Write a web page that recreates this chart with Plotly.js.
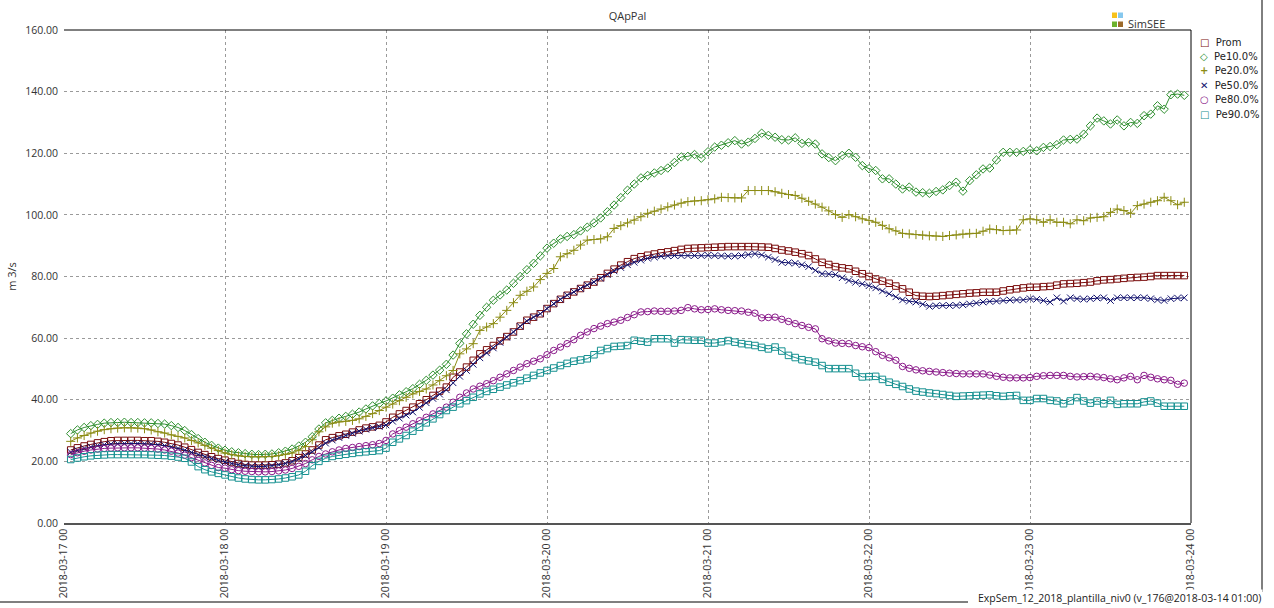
<!DOCTYPE html>
<html><head><meta charset="utf-8">
<script src="https://cdn.plot.ly/plotly-3.0.1.min.js"></script>
<style>html,body{margin:0;padding:0;background:#fff}#chart{width:1274px;height:608px}</style>
</head><body><div id="chart"></div>
<script>
// ---- data (hourly, first point 2018-03-17 01:00) ----
const seriesNames = ['Prom', 'Pe10.0%', 'Pe20.0%', 'Pe50.0%', 'Pe80.0%', 'Pe90.0%'];
const dayTicks = ['2018-03-17 00:00','2018-03-18 00:00','2018-03-19 00:00','2018-03-20 00:00','2018-03-21 00:00','2018-03-22 00:00','2018-03-23 00:00','2018-03-24 00:00'];
const dayTickLabels = ['2018-03-17 00','2018-03-18 00','2018-03-19 00','2018-03-20 00','2018-03-21 00','2018-03-22 00','2018-03-23 00','2018-03-24 00'];

const prom = [
23.7,24.4,25.0,25.5,26.0,26.4,26.7,26.8,26.8,26.8,26.8,26.7,26.7,26.5,26.2,25.8,25.3,24.6,23.8,22.9,22.2,21.5,20.9,
20.4,19.8,19.3,19.0,18.8,18.8,18.8,18.9,19.1,19.5,20.2,21.2,22.4,23.7,25.3,27.0,27.7,28.3,28.8,29.5,30.2,30.8,31.2,31.7,
32.8,34.3,35.4,36.5,37.6,38.7,40.0,41.4,42.8,44.1,47.3,49.0,50.6,52.8,54.9,56.2,57.6,59.1,60.5,62.0,63.9,65.8,66.8,67.9,
69.6,71.2,72.6,73.9,75.0,76.1,77.2,78.2,79.6,81.0,82.4,83.7,84.8,85.8,86.4,86.9,87.3,87.7,88.0,88.4,88.8,89.1,89.2,89.3,
89.4,89.5,89.6,89.7,89.7,89.7,89.7,89.7,89.6,89.5,89.1,88.6,88.3,87.9,87.4,86.8,85.7,84.6,83.9,83.2,82.8,82.5,81.7,80.9,
80.0,79.2,78.5,77.8,76.9,76.0,74.9,73.8,73.6,73.5,73.6,73.8,74.0,74.2,74.4,74.6,74.7,74.9,74.9,74.9,75.3,75.7,76.0,76.3,
76.5,76.5,76.7,76.8,77.2,77.6,77.7,77.8,78.0,78.2,78.6,78.9,79.0,79.2,79.4,79.6,79.7,79.8,80.0,80.3,80.3,80.3,80.3,80.3];

const pe10 = [
29.0,30.2,31.0,31.6,32.0,32.4,32.6,32.6,32.7,32.6,32.6,32.5,32.5,32.3,32.1,31.6,31.0,30.0,28.7,27.4,26.2,25.2,24.3,
23.6,23.1,22.8,22.5,22.3,22.2,22.3,22.4,22.8,23.3,24.0,25.0,26.2,28.0,30.5,32.5,33.3,34.0,34.6,35.3,36.0,37.0,38.0,38.8,
39.6,40.5,41.6,42.6,43.6,45.0,46.3,48.0,49.6,51.5,54.5,58.3,61.4,64.5,67.4,70.0,72.3,74.0,75.6,77.8,80.0,82.2,84.3,86.7,
89.2,90.8,92.2,93.0,93.6,94.8,96.0,97.4,99.0,101.0,103.2,105.6,108.0,110.0,112.0,112.8,113.6,114.4,115.2,117.0,118.8,119.0,119.6,118.4,
120.5,122.0,122.6,123.4,124.1,123.0,123.6,124.8,126.5,125.8,125.2,124.4,124.3,125.0,123.2,123.5,123.0,119.8,118.6,117.6,119.3,120.0,118.7,116.0,
115.0,114.4,111.7,111.7,110.0,108.4,109.0,107.4,107.2,107.0,107.6,108.1,109.5,110.6,107.7,111.1,113.0,114.9,115.2,117.8,120.3,120.3,120.3,120.6,
121.1,120.8,121.9,122.2,122.8,124.3,124.5,124.6,126.2,128.9,131.4,130.5,129.5,130.8,128.9,130.0,129.7,132.2,132.7,135.4,134.3,139.0,139.2,138.8];

const pe20 = [
26.5,27.6,28.4,29.2,29.8,30.3,30.6,30.8,30.9,30.9,30.8,30.6,30.2,29.6,29.2,28.6,28.1,27.6,26.8,26.0,25.2,24.3,23.5,
22.7,22.2,21.8,21.6,21.5,21.5,21.5,21.6,21.9,22.3,22.7,23.6,24.8,27.0,29.6,31.2,32.4,32.8,33.0,33.3,33.8,34.6,35.5,36.5,
37.6,38.6,39.7,40.8,41.9,42.7,43.5,44.8,46.2,47.8,49.5,54.9,56.5,58.2,62.5,63.6,64.7,66.8,69.0,71.5,73.9,75.2,76.6,79.0,
81.0,82.6,86.4,87.4,88.5,90.2,91.8,92.0,92.2,92.9,95.6,96.5,97.4,98.3,99.4,100.5,101.2,101.9,102.6,103.2,103.8,104.3,104.5,104.6,
104.9,105.2,105.7,105.6,105.5,105.5,107.9,107.9,107.9,107.9,107.5,107.0,106.6,106.3,105.4,104.4,103.5,102.5,101.3,100.1,99.2,100.1,99.4,98.7,
98.2,97.6,96.6,95.5,94.8,94.0,93.8,93.6,93.4,93.2,93.1,93.0,93.3,93.5,93.8,94.0,94.0,94.7,95.4,95.2,94.9,95.0,95.1,98.4,
98.7,98.4,97.6,98.4,97.6,97.6,97.1,98.4,98.1,99.0,99.2,99.4,100.8,101.9,101.4,100.5,103.0,103.5,104.1,104.6,105.7,104.6,103.3,104.1];

const pe50 = [
23.0,23.6,24.2,24.7,25.1,25.4,25.6,25.7,25.8,25.8,25.8,25.7,25.6,25.4,25.1,24.7,24.2,23.6,22.9,22.2,21.5,20.9,20.3,
19.8,19.3,18.9,18.6,18.4,18.3,18.4,18.6,18.9,19.3,19.9,20.8,21.9,23.1,24.5,25.9,26.9,27.7,28.4,29.1,29.8,30.4,30.9,31.3,
31.8,33.0,34.0,35.0,36.0,37.5,39.0,40.4,41.8,43.2,45.5,47.6,49.5,51.5,53.6,55.2,56.8,58.6,60.3,62.0,63.8,65.5,66.8,67.9,
69.6,71.2,72.6,73.9,75.0,76.1,77.2,78.2,79.4,80.6,81.8,82.9,83.8,84.6,85.3,85.9,86.3,86.6,86.7,86.8,86.8,86.8,86.8,86.8,
86.9,86.8,86.7,86.6,86.6,86.8,87.1,87.4,87.0,86.3,85.5,84.6,84.5,84.3,83.8,83.2,82.0,80.9,80.8,80.6,79.6,78.7,78.1,77.6,
77.0,76.3,75.3,74.4,73.4,72.4,72.0,71.7,71.0,70.3,70.5,70.6,70.6,70.6,70.8,71.1,71.4,71.7,71.9,72.0,72.2,72.4,72.4,72.4,
72.8,72.6,72.2,71.7,73.1,72.0,73.1,72.8,72.6,72.8,73.0,73.1,72.2,73.1,73.1,73.1,73.1,73.1,72.8,72.4,72.2,72.8,73.0,73.1];

const pe80 = [
22.2,22.8,23.3,23.7,24.0,24.2,24.3,24.4,24.4,24.4,24.4,24.3,24.2,24.0,23.7,23.3,22.7,22.0,21.2,20.3,19.5,18.7,18.0,
17.8,17.3,17.0,16.8,16.7,16.6,16.6,16.7,16.9,17.2,17.7,18.4,19.3,20.5,21.6,22.4,23.1,23.7,24.2,24.5,24.8,25.1,25.4,25.8,
26.8,28.9,30.0,31.1,32.2,33.2,34.3,35.4,36.5,37.6,39.2,40.8,42.2,43.5,44.4,45.2,46.2,47.3,48.4,49.5,50.6,51.7,52.5,53.3,
54.6,56.0,57.1,58.2,59.5,60.9,62.0,63.1,63.9,64.7,65.2,65.8,66.7,67.6,68.5,68.6,68.8,68.7,68.7,68.8,69.0,69.9,69.5,69.2,
69.3,69.5,69.2,69.0,68.9,68.8,68.4,68.1,66.6,66.7,66.8,66.1,65.4,64.7,64.1,63.5,63.0,59.8,59.1,58.4,58.3,58.2,57.6,57.2,
56.9,55.6,54.4,53.6,52.8,50.8,50.2,49.7,49.4,49.2,49.0,48.8,48.6,48.5,48.4,48.4,48.4,48.4,48.0,47.6,47.3,47.1,47.1,47.1,
47.2,47.6,47.8,47.9,47.9,47.9,47.6,47.4,47.5,47.6,47.4,47.2,46.8,46.5,47.1,47.6,46.5,47.9,47.3,46.8,46.5,46.3,45.0,45.4];

const pe90 = [
20.6,21.1,21.5,21.8,22.0,22.1,22.2,22.2,22.2,22.2,22.2,22.2,22.1,22.0,21.9,21.7,21.4,21.0,19.8,18.3,17.3,16.6,16.1,
15.6,15.0,14.6,14.3,14.1,14.0,14.0,14.1,14.3,14.6,15.0,15.6,16.8,18.6,20.0,21.0,21.6,22.0,22.3,22.6,22.9,23.1,23.3,23.5,
24.3,26.2,27.3,28.4,29.8,31.1,32.5,33.8,35.2,36.5,37.6,38.7,39.7,40.8,41.9,42.7,43.4,44.1,44.8,45.5,46.2,47.0,47.9,48.7,
49.5,50.3,51.1,51.8,52.5,52.9,53.3,54.6,56.0,56.6,57.3,57.4,57.6,59.3,59.0,58.7,59.8,59.8,59.8,58.4,59.5,59.4,59.3,59.3,
58.4,58.4,58.8,59.2,58.7,58.2,57.9,57.6,57.0,56.5,57.1,55.8,54.4,53.7,53.0,52.6,52.2,51.1,50.1,50.1,50.1,50.1,48.6,47.4,
47.5,47.6,46.6,45.7,45.0,44.3,43.5,42.8,42.5,42.2,42.0,41.7,41.4,41.1,41.2,41.3,41.4,41.5,41.6,41.3,41.1,41.3,41.4,39.8,
39.8,40.4,40.4,39.8,39.6,38.7,39.6,40.7,39.6,38.9,39.6,38.7,39.8,38.5,38.7,38.7,38.7,39.3,39.6,38.9,37.9,37.9,37.9,37.9];

const seriesValues = [prom, pe10, pe20, pe50, pe80, pe90];

// ---- styles ----
const colors = ['#7a0c0c', '#2f8f2f', '#8c8c14', '#12126e', '#8a1a8a', '#159090'];
const symbols = ['square-open', 'diamond-open', 'cross-thin-open', 'x-thin-open', 'circle-open', 'square-open'];
const legendGlyphs = ['\u25A1', '\u25C7', '+', '\u2715', '\u25CB', '\u25A1'];

function timeAt(k) {
  const d = new Date(Date.UTC(2018, 2, 17, 1 + k));
  return d.toISOString().slice(0, 16).replace('T', ' ');
}

const traces = seriesValues.map((vals, i) => ({
  type: 'scatter',
  mode: 'lines+markers',
  name: seriesNames[i],
  x: vals.map((v, k) => timeAt(k)),
  y: vals,
  line: {color: colors[i], width: 1},
  marker: {symbol: symbols[i], size: 6.5, color: colors[i], line: {width: 1, color: colors[i]}},
  showlegend: false
}));

const L = 64, R = 1191, T = 30, B = 523;
const W = 1274, H = 608;
const px = v => (v - L) / (R - L);
const py = v => (B - v) / (B - T);

const shapes = [
  {type: 'line', xref: 'paper', yref: 'paper', x0: 0, x1: 1, y0: 1, y1: 1, line: {color: '#000', width: 1}},
  {type: 'line', xref: 'paper', yref: 'paper', x0: 1, x1: 1, y0: 0, y1: 1, line: {color: '#000', width: 1}},
  {type: 'line', xref: 'paper', yref: 'paper', x0: px(1262), x1: px(1262), y0: py(0), y1: py(592), line: {color: '#000', width: 1}},
  {type: 'line', xref: 'paper', yref: 'paper', x0: px(0), x1: px(968), y0: py(602), y1: py(602), line: {color: '#000', width: 1}},
  {type: 'rect', xref: 'paper', yref: 'paper', x0: px(1112), x1: px(1117), y0: py(12.5), y1: py(18), fillcolor: '#f7c21c', line: {width: 0}},
  {type: 'rect', xref: 'paper', yref: 'paper', x0: px(1118), x1: px(1123), y0: py(12.5), y1: py(18), fillcolor: '#86c8ee', line: {width: 0}},
  {type: 'rect', xref: 'paper', yref: 'paper', x0: px(1112), x1: px(1117), y0: py(21.5), y1: py(27), fillcolor: '#6cb22c', line: {width: 0}},
  {type: 'rect', xref: 'paper', yref: 'paper', x0: px(1118), x1: px(1123), y0: py(21.5), y1: py(27), fillcolor: '#9c6a2a', line: {width: 0}}
];

const annotations = [
  {xref: 'paper', yref: 'paper', x: px(1126), y: py(23.5), xanchor: 'left', yanchor: 'middle', showarrow: false,
   text: 'SimSEE', font: {family: 'Open Sans, sans-serif', size: 11, color: '#333'}},
  {xref: 'paper', yref: 'paper', x: px(1263), y: py(598), xanchor: 'right', yanchor: 'middle', showarrow: false,
   text: 'ExpSem_12_2018_plantilla_niv0 (v_176@2018-03-14 01:00)', bgcolor: '#fff', borderpad: 1,
   font: {family: 'Open Sans, sans-serif', size: 10.5, color: '#222'}}
];
seriesNames.forEach((n, i) => {
  annotations.push({xref: 'paper', yref: 'paper', x: px(1198), y: py(42 + i * 14.4), xanchor: 'left', yanchor: 'middle',
    showarrow: false, text: '<b><span style="color:' + colors[i] + '">' + legendGlyphs[i] + '</span></b>  ' + n,
    font: {family: 'DejaVu Sans, sans-serif', size: 10, color: '#222'}});
});

const layout = {
  width: W, height: H,
  margin: {l: L, r: W - R, t: T, b: H - B},
  paper_bgcolor: '#fff', plot_bgcolor: '#fff',
  showlegend: false,
  title: {text: 'QApPal', xref: 'paper', x: 0.5, xanchor: 'center', yref: 'container', y: 1 - 16 / H, yanchor: 'middle',
          font: {family: 'Open Sans, sans-serif', size: 11, color: '#333'}},
  font: {family: 'Open Sans, sans-serif', size: 10.5, color: '#333'},
  xaxis: {
    type: 'date', range: [dayTicks[0], dayTicks[dayTicks.length - 1]],
    tickmode: 'array', tickvals: dayTicks, ticktext: dayTickLabels, tickangle: -90,
    showgrid: true, gridcolor: '#9a9a9a', griddash: '3px,3px', gridwidth: 1,
    showline: true, linecolor: '#555', linewidth: 1.5, zeroline: false, ticks: '',
    tickfont: {family: 'Open Sans, sans-serif', size: 10.5, color: '#333'}
  },
  yaxis: {
    range: [0, 160], dtick: 20, tick0: 0, tickformat: '.2f',
    showgrid: true, gridcolor: '#9a9a9a', griddash: '3px,3px', gridwidth: 1,
    showline: false, zeroline: false, ticks: '', ticklabelstandoff: 5,
    title: {text: 'm 3/s', font: {family: 'Open Sans, sans-serif', size: 11, color: '#333'}, standoff: 6},
    tickfont: {family: 'Open Sans, sans-serif', size: 10.5, color: '#333'}
  },
  shapes: shapes,
  annotations: annotations
};

Plotly.newPlot('chart', traces, layout, {displayModeBar: false, staticPlot: true});
</script>
</body></html>
